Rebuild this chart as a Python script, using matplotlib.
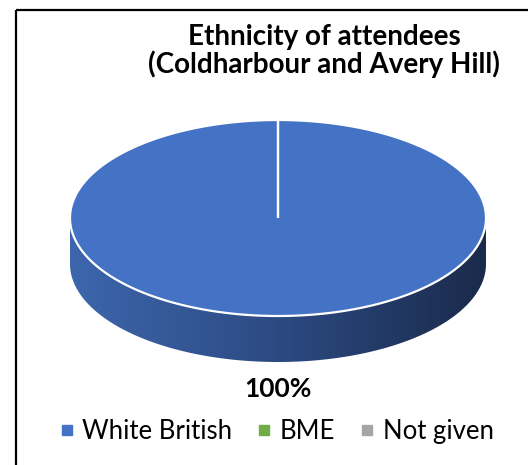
import numpy as np
import matplotlib.pyplot as plt
from matplotlib.patches import Polygon, Rectangle
from matplotlib.lines import Line2D
from matplotlib.colors import LinearSegmentedColormap

plt.rcParams['font.family'] = ['Lato', 'DejaVu Sans']

# Ethnicity shares (%)
categories = ['White British', 'BME', 'Not given']
shares = [100, 0, 0]
colors = ['#4472c4', '#70ad47', '#a5a5a5']

W, H = 528, 465
fig = plt.figure(figsize=(W / 100, H / 100), dpi=100)
ax = fig.add_axes([0, 0, 1, 1])
ax.set_xlim(0, W)
ax.set_ylim(H, 0)
ax.axis('off')

# chart frame
ax.add_patch(Rectangle((16, 10), W, H, fill=False, edgecolor='black', lw=1.6, zorder=1))

ax.text(324, 51, 'Ethnicity of attendees\n(Coldharbour and Avery Hill)',
        ha='center', va='center', fontsize=20, fontweight='bold',
        linespacing=1.05, multialignment='center')

# 3D pie geometry
cx, cy = 278, 218
a, b = 208, 98
depth = 46

total = float(sum(shares))
start = 90.0  # first slice starts at 12 o'clock, going clockwise

def ell(t, y0):
    return np.column_stack([cx + a * np.cos(t), y0 + b * np.sin(t)])

# side wall with left-to-right shading
t_front = np.linspace(0, np.pi, 200)
side = np.vstack([ell(t_front, cy), ell(t_front[::-1], cy + depth)])
side_patch = Polygon(side, closed=True, facecolor='none', edgecolor='none')
ax.add_patch(side_patch)
cmap = LinearSegmentedColormap.from_list('side', ['#3d66ad', '#2c4a82', '#1a2a4b'])
grad = np.linspace(0, 1, 256).reshape(1, -1)
img = ax.imshow(grad, cmap=cmap, aspect='auto',
                extent=[cx - a, cx + a, cy + depth + b, cy - 2], zorder=2)
img.set_clip_path(side_patch)

# top face, one wedge per category
ang = start
for val, col in zip(shares, colors):
    if val <= 0:
        continue
    sweep = 360.0 * val / total
    th = np.radians(np.linspace(ang, ang - sweep, 400))
    pts = np.column_stack([cx + a * np.cos(th), cy - b * np.sin(th)])
    pts = np.vstack([[cx, cy], pts])
    ax.add_patch(Polygon(pts, closed=True, facecolor=col, edgecolor='white',
                         lw=1.6, joinstyle='miter', zorder=3))
    ang -= sweep

# data label for the only non-zero slice
top_val = max(shares)
ax.text(cx, 389, f'{top_val:.0f}%', ha='center', va='center',
        fontsize=19, fontweight='bold')

handles = [Line2D([], [], marker='s', ls='', markersize=6.5, color=c) for c in colors]
fig.legend(handles, categories, loc='center', bbox_to_anchor=(277 / W, 1 - 431 / H),
           ncol=3, frameon=False, fontsize=18.5, handlelength=0.5, handletextpad=0.35,
           columnspacing=1.0)

fig.savefig('out.png', dpi=100)
